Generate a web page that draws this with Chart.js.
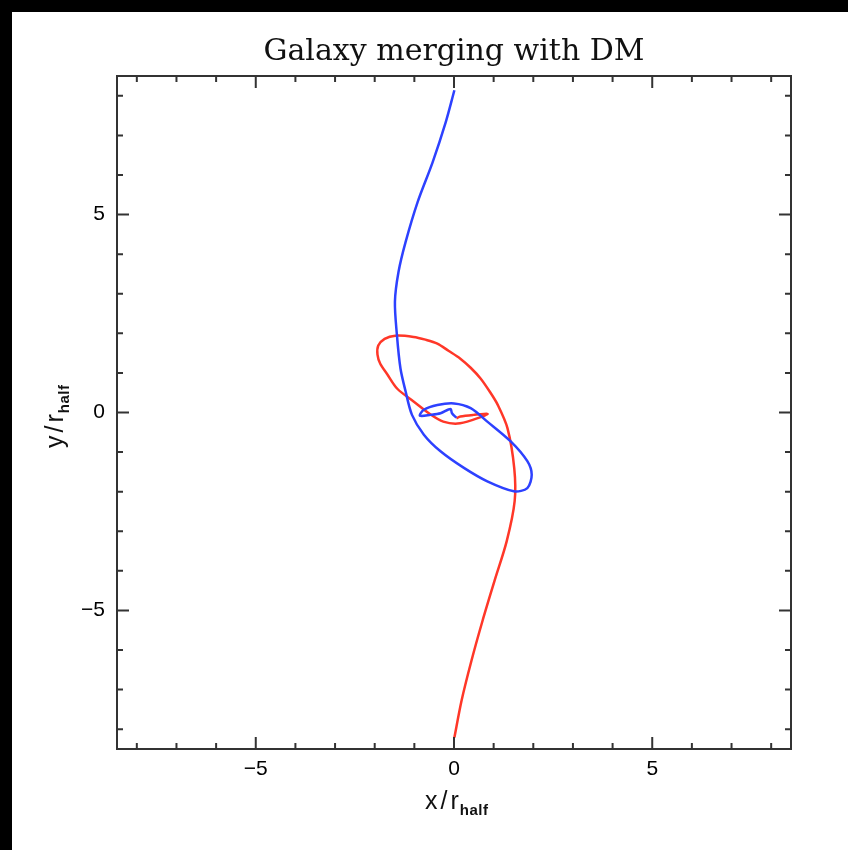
<!DOCTYPE html>
<html>
<head>
<meta charset="utf-8">
<script src="https://cdn.jsdelivr.net/npm/chart.js@4/dist/chart.umd.min.js"></script>
<style>
  html, body { margin: 0; padding: 0; background: #fff; }
  #wrap { position: relative; width: 848px; height: 850px; }
</style>
</head>
<body>
<div id="wrap"><canvas id="c" width="848" height="850"></canvas></div>
<script>
// orbit of the first galaxy (blue), from top down into the centre
const blueX = [0.01, -0.21, -0.54, -0.92, -1.22, -1.40, -1.49, -1.44, -1.35, -1.22, -1.06, -0.76, -0.34, 0.25, 0.84, 1.51, 1.85, 1.96, 1.85, 1.43, 0.84, 0.42, 0.00, -0.42, -0.76, -0.86, -0.59, -0.34, -0.09, -0.05, 0.06];
const blueY = [8.14, 7.33, 6.32, 5.31, 4.31, 3.55, 2.80, 1.96, 1.11, 0.53, -0.06, -0.56, -0.98, -1.40, -1.74, -1.99, -1.91, -1.57, -1.23, -0.73, -0.23, 0.11, 0.23, 0.19, 0.07, -0.08, -0.06, -0.02, 0.09, -0.02, -0.13];

// orbit of the second galaxy (red), from bottom up into the centre
const redX = [0.01, 0.19, 0.44, 0.72, 1.02, 1.33, 1.53, 1.52, 1.35, 1.10, 0.90, 0.67, 0.42, 0.16, -0.14, -0.42, -0.72, -1.02, -1.48, -1.75, -1.91, -1.93, -1.86, -1.68, -1.43, -1.02, -0.59, -0.27, 0.09, 0.49, 0.85, 0.49, 0.16, 0.06];
const redY = [-8.21, -7.28, -6.27, -5.26, -4.26, -3.25, -2.24, -1.41, -0.40, 0.20, 0.53, 0.86, 1.13, 1.36, 1.56, 1.74, 1.84, 1.91, 1.94, 1.86, 1.69, 1.46, 1.23, 0.96, 0.60, 0.28, -0.05, -0.23, -0.28, -0.18, -0.04, -0.06, -0.10, -0.15];

const axisMin = -8.5;
const axisMax = 8.5;
const tickValues = [-8, -7, -6, -5, -4, -3, -2, -1, 0, 1, 2, 3, 4, 5, 6, 7, 8];
const majorTicks = [-5, 0, 5];

const toPoints = (xs, ys) => xs.map((x, i) => ({x: x, y: ys[i]}));

const fmt = v => majorTicks.includes(v) ? (v < 0 ? '\u2212' + Math.abs(v) : String(v)) : '';

// draws "x/r" + subscript "half" starting at (0,0) of the current transform
function axisTitle(ctx, main) {
  ctx.font = '25px "Liberation Sans", Arial, sans-serif';
  ctx.letterSpacing = '3px';
  ctx.fillText(main, 0, 0);
  const w = ctx.measureText(main).width;
  ctx.font = 'bold 15px "Liberation Sans", Arial, sans-serif';
  ctx.letterSpacing = '0.5px';
  ctx.fillText('half', w - 2, 6);
  ctx.letterSpacing = '0px';
}

// frame, inward ticks on all four sides, axis titles with subscript
const framePlugin = {
  id: 'frame',
  beforeDraw(chart) {
    const ctx = chart.ctx;
    ctx.save();
    ctx.fillStyle = '#000';
    ctx.fillRect(0, 0, 848, 12);
    ctx.fillRect(0, 0, 12, 850);
    ctx.restore();
  },
  afterDraw(chart) {
    const ctx = chart.ctx;
    const a = chart.chartArea;
    const xs = chart.scales.x, ys = chart.scales.y;
    ctx.save();
    ctx.strokeStyle = '#333';
    ctx.lineWidth = 2;
    ctx.strokeRect(a.left, a.top, a.right - a.left, a.bottom - a.top);
    tickValues.forEach(v => {
      const len = majorTicks.includes(v) ? 12 : 6;
      const px = xs.getPixelForValue(v);
      const py = ys.getPixelForValue(v);
      ctx.beginPath();
      ctx.moveTo(px, a.bottom); ctx.lineTo(px, a.bottom - len);
      ctx.moveTo(px, a.top); ctx.lineTo(px, a.top + len);
      ctx.moveTo(a.left, py); ctx.lineTo(a.left + len, py);
      ctx.moveTo(a.right, py); ctx.lineTo(a.right - len, py);
      ctx.stroke();
    });
    ctx.fillStyle = '#111';
    ctx.textBaseline = 'alphabetic';
    ctx.textAlign = 'left';
    // x title
    ctx.save();
    ctx.translate(425, 809);
    axisTitle(ctx, 'x/r');
    ctx.restore();
    // y title, rotated
    ctx.save();
    ctx.translate(63, 448);
    ctx.rotate(-Math.PI / 2);
    axisTitle(ctx, 'y/r');
    ctx.restore();
    ctx.restore();
  }
};

const setTicks = s => { s.ticks = tickValues.map(v => ({value: v})); };

new Chart(document.getElementById('c'), {
  type: 'scatter',
  data: {
    datasets: [
      {
        label: 'blue',
        data: toPoints(blueX, blueY),
        showLine: true,
        borderColor: 'rgb(45, 65, 255)',
        borderWidth: 2.5,
        pointRadius: 0,
        tension: 0.3
      },
      {
        label: 'red',
        data: toPoints(redX, redY),
        showLine: true,
        borderColor: 'rgb(255, 55, 40)',
        borderWidth: 2.5,
        pointRadius: 0,
        tension: 0.3
      }
    ]
  },
  options: {
    responsive: false,
    animation: false,
    events: [],
    layout: { padding: { left: 0, right: 57, top: 0, bottom: 0 } },
    plugins: {
      legend: { display: false },
      tooltip: { enabled: false },
      title: {
        display: true,
        fullSize: false,
        text: 'Galaxy merging with DM',
        color: '#111',
        font: { family: '"DejaVu Serif", serif', size: 30, weight: 'normal', lineHeight: 1.2 },
        padding: { top: 34, bottom: 6 }
      }
    },
    scales: {
      x: {
        type: 'linear',
        min: axisMin, max: axisMax,
        grid: { display: false, drawTicks: false },
        border: { display: false },
        afterBuildTicks: setTicks,
        afterFit(s) { s.height = 101; },
        ticks: {
          autoSkip: false, maxRotation: 0, padding: 8,
          color: '#000',
          font: { family: '"Liberation Sans", Arial, sans-serif', size: 21 },
          callback: v => fmt(v)
        }
      },
      y: {
        type: 'linear',
        min: axisMin, max: axisMax,
        grid: { display: false, drawTicks: false },
        border: { display: false },
        afterBuildTicks: setTicks,
        afterFit(s) { s.width = 117; },
        ticks: {
          autoSkip: false, padding: 12,
          color: '#000',
          font: { family: '"Liberation Sans", Arial, sans-serif', size: 21 },
          callback: v => fmt(v)
        }
      }
    }
  },
  plugins: [framePlugin]
});
</script>
</body>
</html>
